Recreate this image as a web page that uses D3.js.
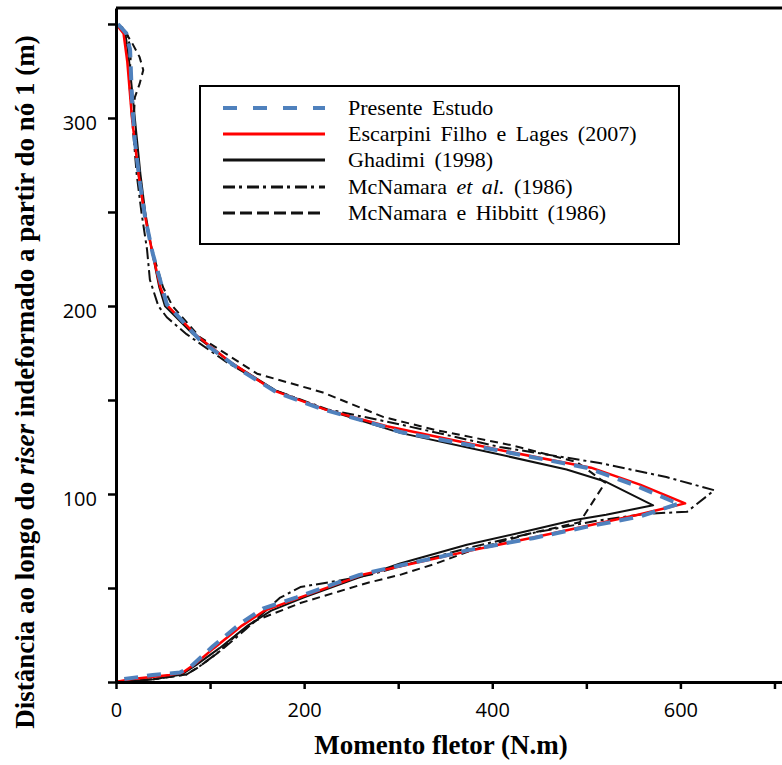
<!DOCTYPE html>
<html>
<head>
<meta charset="utf-8">
<script src="https://cdn.jsdelivr.net/npm/d3@7"></script>
<style>
  html, body { margin: 0; padding: 0; background: #fff; }
  svg { display: block; }
</style>
</head>
<body>
<div id="chart"></div>
<script>
// ---- data: [moment (N.m), distance (m)] ----
const presenteEstudo = [
  [2,350],[11,345],[15,336],[17,310],[20,288],[25.5,265],[31,247],[39,228],[54,201],
  [89,182],[132,166],[171,154],[220,145],[284,136],[302,133],[408,123],[500,114],
  [550,105],[592,96],[599,95],[557,88],[500,82.5],[443,76.5],[373,70],[344,66.5],
  [302,62],[259,57],[192,45],[156,39],[132,31],[103,19],[79,8],[68,5],[39,3.7],[8,1.5],[0,0]
];
const escarpiniLages = [
  [0,350],[8,345],[12,330],[17,300],[24,270],[30,250],[38,230],[47,210],[55,200],
  [84,185],[122,170],[168,155],[222,145],[288,136],[412,123],[505,114],[557,105],
  [605,95],[555,89],[500,83],[445,77],[378,70],[306,62],[262,57],[196,45],[158,38],
  [134,30],[104,18],[85,10],[71,5],[57,3.7],[15,1.5],[0,0]
];
const ghadimi = [
  [0,350],[10,345],[14,330],[18,310],[22,290],[26,270],[31,250],[38,230],[46,210],
  [52,200],[82,185],[122,170],[170,155],[222,145],[302,132.5],[408,121],[479,113],
  [521,106.5],[571,94],[521,89],[486,86],[426,79],[373,73],[302,63],[255,55],[200,45],
  [165,38],[140,30],[110,18],[85,9],[70,4],[40,1.5],[0,0]
];
const mcnamaraEtAl = [
  [0,350],[12,345],[16,335],[14,320],[17,300],[22,270],[27,250],[33,230],[36,214],
  [45,200],[54,194],[75,185],[118,170],[170,155],[225,145],[302,137],[408,125],
  [514,116.5],[585,109],[636,102],[607,90.5],[564,89.5],[514,86],[440,79],[380,72],
  [320,64],[270,57],[238,54],[196,50.5],[174,44.7],[155,36],[138,28],[112,17],
  [88,8],[75,4],[40,1.5],[0,0]
];
const mcnamaraHibbitt = [
  [0,350],[7,348],[17,340],[25,332.5],[29,325.5],[25,318],[20,311],[19,300],[24,270],
  [30,250],[38,230],[50,210],[60,200],[89,183.5],[150,164],[220,154],[284,141],
  [340,134],[420,126],[490,117],[520,106],[493,85],[440,79],[378,70],[340,63],
  [302,57],[267,52.7],[196,42],[150,33],[128,25],[107,15],[88,8],[75,4],[40,1.5],[0,0]
];
const seriesNames = [
  "Presente Estudo",
  "Escarpini Filho e Lages (2007)",
  "Ghadimi (1998)",
  "McNamara et al. (1986)",
  "McNamara e Hibbitt (1986)"
];
const xTickValues = [0,100,200,300,400,500,600,700];
const xTickLabels = ["0","","200","","400","","600",""];
const yTickValues = [0,50,100,150,200,250,300,350];
const yTickLabels = ["","","100","","200","","300",""];

// ---- layout ----
const W = 782, H = 765;
const svg = d3.select("#chart").append("svg").attr("width", W).attr("height", H);

const x = d3.scaleLinear().domain([0, 708]).range([116, 782]);
const y = d3.scaleLinear().domain([0, 358.5]).range([682, 8]);

// top frame line
svg.append("line").attr("x1", x(0)).attr("x2", W).attr("y1", y(358.5)).attr("y2", y(358.5))
  .attr("stroke", "#000").attr("stroke-width", 3);

// series
const styles = [
  { data: mcnamaraHibbitt, color: "#111", width: 2, dash: "8,5" },
  { data: mcnamaraEtAl, color: "#111", width: 2, dash: "12,4,3,4" },
  { data: ghadimi, color: "#111", width: 2, dash: null },
  { data: escarpiniLages, color: "#ff0000", width: 2.5, dash: null },
  { data: presenteEstudo, color: "#4f81bd", width: 4, dash: "14,9" }
];
styles.forEach(s => {
  const line = d3.line().x(d => x(d[0])).y(d => y(d[1]));
  svg.append("path").datum(s.data).attr("d", line)
    .attr("fill", "none").attr("stroke", s.color).attr("stroke-width", s.width)
    .attr("stroke-linejoin", "round")
    .attr("stroke-dasharray", s.dash);
});

// axes
const xAxis = d3.axisBottom(x).tickValues(xTickValues)
  .tickFormat((d, i) => xTickLabels[i]).tickSize(7).tickSizeOuter(0).tickPadding(14);
const gx = svg.append("g").attr("transform", `translate(0,${y(0)})`).call(xAxis);
gx.select(".domain").attr("stroke-width", 3);
gx.selectAll(".tick line").attr("stroke-width", 2.5);
gx.selectAll(".tick text").attr("font-family", "'Open Sans', sans-serif").attr("font-size", 20).attr("fill", "#000");

const yAxis = d3.axisLeft(y).tickValues(yTickValues)
  .tickFormat((d, i) => yTickLabels[i]).tickSize(8).tickSizeOuter(0).tickPadding(11);
const gy = svg.append("g").attr("transform", `translate(${x(0)},0)`).call(yAxis);
gy.select(".domain").attr("stroke-width", 3);
gy.selectAll(".tick line").attr("stroke-width", 2.5);
gy.selectAll(".tick text").attr("font-family", "'Open Sans', sans-serif").attr("font-size", 20)
  .attr("fill", "#000").attr("dy", "0.6em");

// axis titles
svg.append("text").attr("x", 441).attr("y", 754).attr("text-anchor", "middle")
  .attr("font-family", "'Liberation Serif', 'Times New Roman', serif").attr("font-weight", "bold")
  .attr("font-size", 27).text("Momento fletor (N.m)");

const yt = svg.append("text").attr("transform", "translate(34,382) rotate(-90)")
  .attr("text-anchor", "middle")
  .attr("font-family", "'Liberation Serif', 'Times New Roman', serif").attr("font-weight", "bold")
  .attr("font-size", 27);
yt.append("tspan").text("Distância ao longo do ");
yt.append("tspan").attr("font-style", "italic").text("riser");
yt.append("tspan").text(" indeformado a partir do nó 1 (m)");

// legend
const lg = svg.append("g");
lg.append("rect").attr("x", 200).attr("y", 86).attr("width", 479).attr("height", 158)
  .attr("fill", "#fff").attr("stroke", "#000").attr("stroke-width", 2);
const legendStyles = [
  { color: "#4f81bd", width: 4, dash: "14,16" },
  { color: "#ff0000", width: 3, dash: null },
  { color: "#111", width: 3, dash: null },
  { color: "#111", width: 3, dash: "12,4,3,5" },
  { color: "#111", width: 3, dash: "12,5" }
];
const rowY = [108, 134, 160, 187, 213];
seriesNames.forEach((name, i) => {
  const ls = legendStyles[i];
  lg.append("line").attr("x1", 223).attr("x2", 325).attr("y1", rowY[i]).attr("y2", rowY[i])
    .attr("stroke", ls.color).attr("stroke-width", ls.width).attr("stroke-dasharray", ls.dash);
  const t = lg.append("text").attr("x", 348).attr("y", rowY[i] + 7)
    .attr("font-family", "'Liberation Serif', 'Times New Roman', serif").attr("font-size", 22)
    .style("word-spacing", "4px");
  if (name.indexOf("et al.") >= 0) {
    t.append("tspan").text("McNamara ");
    t.append("tspan").attr("font-style", "italic").text("et al.");
    t.append("tspan").text(" (1986)");
  } else {
    t.text(name);
  }
});
</script>
</body>
</html>
